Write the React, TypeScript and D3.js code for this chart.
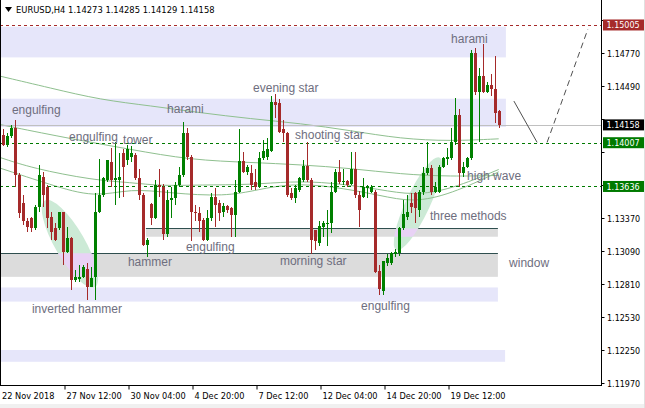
import * as d3 from "d3";

// EURUSD H4 candles
const opens = [
  1.1407, 1.1399, 1.1406, 1.1413, 1.1373, 1.1350, 1.1334, 1.1337, 1.1328, 1.1346,
  1.1372, 1.1363, 1.1338, 1.1328, 1.1328, 1.1342, 1.1308, 1.1320, 1.1284, 1.1285,
  1.1287, 1.1294, 1.1278, 1.1287, 1.1342, 1.1356, 1.1369, 1.1384, 1.1369, 1.1369,
  1.1392, 1.1386, 1.1389, 1.1390, 1.1371, 1.1356, 1.1314, 1.1349, 1.1337, 1.1365,
  1.1363, 1.1323, 1.1352, 1.1354, 1.1365, 1.1373, 1.1409, 1.1389, 1.1342, 1.1341,
  1.1335, 1.1318, 1.1337, 1.1355, 1.1350, 1.1342, 1.1347, 1.1345, 1.1339, 1.1359,
  1.1385, 1.1376, 1.1375, 1.1367, 1.1363, 1.1388, 1.1389, 1.1394, 1.1435, 1.1434,
  1.1412, 1.1409, 1.1358, 1.1354, 1.1361, 1.1369, 1.1381, 1.1369, 1.1327, 1.1316,
  1.1329, 1.1332, 1.1333, 1.1359, 1.1376, 1.1367, 1.1368, 1.1366, 1.1378, 1.1356,
  1.1355, 1.1362, 1.1359, 1.1359, 1.1292, 1.1275, 1.1299, 1.1299, 1.1306, 1.1307,
  1.1328, 1.1338, 1.1350, 1.1358, 1.1344, 1.1359, 1.1375, 1.1379, 1.1359, 1.1359,
  1.1380, 1.1387, 1.1388, 1.1401, 1.1424, 1.1375, 1.1380, 1.1388, 1.1477, 1.1444,
  1.1457, 1.1444, 1.1450, 1.1446, 1.14273,
];
const highs = [
  1.1412, 1.1409, 1.1416, 1.1420, 1.1375, 1.1356, 1.1337, 1.1338, 1.1348, 1.1382,
  1.1376, 1.1365, 1.1342, 1.1333, 1.1342, 1.1342, 1.1329, 1.1321, 1.1293, 1.1297,
  1.1297, 1.1299, 1.1295, 1.1358, 1.1387, 1.1372, 1.1386, 1.1396, 1.1401, 1.1392,
  1.1395, 1.1399, 1.1398, 1.1392, 1.1378, 1.1358, 1.1320, 1.1350, 1.1369, 1.1378,
  1.1366, 1.1361, 1.1363, 1.1367, 1.1380, 1.1418, 1.1413, 1.1390, 1.1348, 1.1346,
  1.1337, 1.1344, 1.1358, 1.1362, 1.1352, 1.1350, 1.1348, 1.1346, 1.1369, 1.1412,
  1.1393, 1.1382, 1.1382, 1.1378, 1.1393, 1.1403, 1.1405, 1.1440, 1.1442, 1.1438,
  1.1420, 1.1410, 1.1362, 1.1365, 1.1372, 1.1386, 1.1401, 1.1371, 1.1327, 1.1334,
  1.1334, 1.1344, 1.1367, 1.1378, 1.1386, 1.1378, 1.1369, 1.1393, 1.1393, 1.1360,
  1.1371, 1.1365, 1.1365, 1.1361, 1.1297, 1.1300, 1.1306, 1.1308, 1.1311, 1.1329,
  1.1352, 1.1356, 1.1358, 1.1359, 1.1361, 1.1380, 1.1401, 1.1382, 1.1367, 1.1382,
  1.1389, 1.1396, 1.1413, 1.1439, 1.1429, 1.1384, 1.1389, 1.1479, 1.1481, 1.1464,
  1.1484, 1.1452, 1.1459, 1.1474, 1.14285,
];
const lows = [
  1.1398, 1.1397, 1.1405, 1.1363, 1.1337, 1.1331, 1.1325, 1.1325, 1.1327, 1.1342,
  1.1346, 1.1328, 1.1318, 1.1317, 1.1327, 1.1297, 1.1307, 1.1276, 1.1283, 1.1283,
  1.1286, 1.1267, 1.1278, 1.1267, 1.1341, 1.1355, 1.1367, 1.1363, 1.1348, 1.1354,
  1.1355, 1.1382, 1.1384, 1.1369, 1.1352, 1.1313, 1.1304, 1.1331, 1.1336, 1.1355,
  1.1318, 1.1321, 1.1337, 1.1348, 1.1363, 1.1372, 1.1386, 1.1317, 1.1334, 1.1325,
  1.1317, 1.1317, 1.1334, 1.1329, 1.1334, 1.1338, 1.1341, 1.1321, 1.1321, 1.1358,
  1.1375, 1.1373, 1.1361, 1.1361, 1.1362, 1.1386, 1.1386, 1.1393, 1.1422, 1.1409,
  1.1401, 1.1355, 1.1352, 1.1350, 1.1359, 1.1367, 1.1367, 1.1306, 1.1310, 1.1313,
  1.1321, 1.1313, 1.1324, 1.1358, 1.1366, 1.1365, 1.1363, 1.1365, 1.1354, 1.1329,
  1.1354, 1.1354, 1.1358, 1.1290, 1.1272, 1.1272, 1.1296, 1.1297, 1.1304, 1.1305,
  1.1327, 1.1335, 1.1341, 1.1333, 1.1338, 1.1356, 1.1373, 1.1356, 1.1358, 1.1358,
  1.1379, 1.1382, 1.1386, 1.1399, 1.1363, 1.1372, 1.1379, 1.1386, 1.1441, 1.1401,
  1.1443, 1.1443, 1.1440, 1.1417, 1.14129,
];
const closes = [
  1.1399, 1.1406, 1.1413, 1.1373, 1.1341, 1.1334, 1.1329, 1.1328, 1.1346, 1.1373,
  1.1356, 1.1337, 1.1325, 1.1318, 1.1342, 1.1308, 1.1320, 1.1284, 1.1287, 1.1287,
  1.1295, 1.1278, 1.1286, 1.1342, 1.1356, 1.1371, 1.1386, 1.1369, 1.1371, 1.1372,
  1.1380, 1.1395, 1.1392, 1.1371, 1.1356, 1.1314, 1.1318, 1.1337, 1.1365, 1.1363,
  1.1323, 1.1352, 1.1354, 1.1365, 1.1373, 1.1409, 1.1389, 1.1342, 1.1341, 1.1334,
  1.1318, 1.1337, 1.1355, 1.1348, 1.1341, 1.1347, 1.1344, 1.1339, 1.1359, 1.1385,
  1.1376, 1.1380, 1.1365, 1.1363, 1.1388, 1.1394, 1.1395, 1.1435, 1.1433, 1.1410,
  1.1409, 1.1356, 1.1354, 1.1362, 1.1371, 1.1381, 1.1369, 1.1318, 1.1317, 1.1330,
  1.1333, 1.1333, 1.1359, 1.1376, 1.1367, 1.1368, 1.1365, 1.1378, 1.1356, 1.1344,
  1.1363, 1.1363, 1.1363, 1.1291, 1.1277, 1.1300, 1.1303, 1.1307, 1.1308, 1.1328,
  1.1340, 1.1342, 1.1346, 1.1345, 1.1359, 1.1375, 1.1379, 1.1359, 1.1363, 1.1380,
  1.1388, 1.1389, 1.1401, 1.1424, 1.1375, 1.1380, 1.1388, 1.1477, 1.1444, 1.1457,
  1.1444, 1.1450, 1.1446, 1.1426, 1.14158,
];

// moving averages, [bar, price]
const maSlow = [[-0.5, 1.1457], [12, 1.1447], [24.5, 1.1437], [37, 1.1432], [49.5, 1.1426], [62, 1.1421], [74.5, 1.1417], [87, 1.1411], [99.5, 1.1404], [112, 1.1402], [124, 1.1404]];
const maMid = [[-0.5, 1.1416], [15.5, 1.1405], [32, 1.1395], [47, 1.1386], [62, 1.1384], [74.5, 1.1382], [87, 1.1379], [99.5, 1.1374], [112, 1.1372], [124, 1.1373]];
const maFast1 = [[-0.5, 1.1388], [7.5, 1.1379], [22.5, 1.1369], [32, 1.1367], [39.5, 1.1364], [49.5, 1.1365], [62, 1.1365], [72, 1.1368], [82, 1.1367], [94.5, 1.1361], [102.5, 1.1356], [112, 1.1361], [124, 1.1378]];
const maFast2 = [[-0.5, 1.1379], [12, 1.1365], [23, 1.1354], [32, 1.1362], [42, 1.1358], [55.5, 1.1355], [64, 1.1361], [72, 1.1366], [82, 1.1364], [94.5, 1.1356], [102.5, 1.1350], [112, 1.1357], [124, 1.1376]];

const priceTicks = ["1.11970", "1.12250", "1.12530", "1.12810", "1.13090", "1.13370", "1.13650", "1.13930", "1.14210", "1.14490", "1.14770", "1.15050"];
const dateLabels = ["22 Nov 2018", "27 Nov 12:00", "30 Nov 04:00", "4 Dec 20:00", "7 Dec 12:00", "12 Dec 04:00", "14 Dec 20:00", "19 Dec 12:00"];
const dateBars = [0, 15, 31, 47, 63, 79, 95, 111];

// zones: [bar from, bar to, price top, price bottom]
const blueZones = [[-0.7, 125.8, 1.1499, 1.1473], [-0.7, 125.8, 1.1438, 1.1414], [-0.7, 123.8, 1.1278, 1.1266], [-0.7, 125.6, 1.1225, 1.1215]];
const greyZones = [[35.8, 123.8, 1.1328, 1.1321], [-0.7, 123.8, 1.1307, 1.1287]];
// ellipses: [bar, price]
const ellipseCenters = [[16.8, 1.1315], [103.8, 1.1349]];

const levelPrices = [1.15005, 1.14007, 1.13636];
const levelLabels = ["1.15005", "1.14007", "1.13636"];
const levelColors = ["#a52a2a", "#007a00", "#007a00"];
const lastPrice = 1.14158;

const patternNames = ["engulfing", "harami", "engulfing", "tower", "evening star", "shooting star", "harami", "high wave", "three methods", "window", "hammer", "engulfing", "morning star", "inverted hammer", "engulfing"];
const patternBars = [2.3, 41.1, 16.6, 30.1, 62.6, 73.1, 112.1, 116.1, 106.8, 126.6, 31.3, 45.8, 69.3, 7.3, 89.6];
const patternPrices = [1.1425, 1.1426, 1.1402, 1.1400, 1.1444, 1.1404, 1.1485, 1.1369, 1.1335, 1.1295, 1.1296, 1.1309, 1.1297, 1.1256, 1.1259];

// projected path: [bar, price]
const projSolid = [[127.8, 1.1436], [133.6, 1.1401]];
const projDashed = [[136.1, 1.1401], [146.3, 1.1497]];

const W = 645;
const H = 408;
const plotRight = 601.5;
const plotBottom = 385.5;

export default function App() {
  const x = d3.scaleLinear().domain([0, opens.length - 1]).range([2.7, 498.7]);
  const y = d3.scaleLinear().domain([1.1197, 1.1505]).range([383, 19.67]);
  const cx = (i: number) => Math.round(x(i)) + 0.5;

  const maLine = d3.line<number[]>()
    .x(d => x(d[0]))
    .y(d => y(d[1]))
    .curve(d3.curveBasis);

  const font = "'Liberation Sans', Arial, sans-serif";
  const uiFont = "'DejaVu Sans', Tahoma, sans-serif";

  // tick labels sitting under a price box are covered in the terminal
  const boxPrices = [...levelPrices, lastPrice];
  const visibleTicks = priceTicks.filter(t => boxPrices.every(p => Math.abs(y(+t) - y(p)) > 10));

  return (
    <svg width={W} height={H} style={{ position: "absolute", left: 0, top: 0, background: "#fff" }} fontFamily={font}>
      <defs>
        <clipPath id="plot">
          <rect x={1} y={0} width={plotRight - 1} height={plotBottom} />
        </clipPath>
        <clipPath id="grey">
          {greyZones.map((z, k) => (
            <rect key={k} x={x(z[0])} y={y(z[2])} width={x(z[1]) - x(z[0])} height={y(z[3]) - y(z[2])} />
          ))}
        </clipPath>
      </defs>
      <rect x={0} y={0} width={W} height={H} fill="#fff" />
      <rect x={0} y={404} width={W} height={4} fill="#f0f0f0" />
      <rect x={644} y={0} width={1} height={H} fill="#e0e0e0" />

      <g clipPath="url(#plot)">
        {blueZones.map((z, k) => (
          <rect key={k} x={x(z[0])} y={y(z[2])} width={x(z[1]) - x(z[0])} height={y(z[3]) - y(z[2])} fill="#e6e6fa" />
        ))}
        {greyZones.map((z, k) => (
          <g key={k}>
            <rect x={x(z[0])} y={y(z[2])} width={x(z[1]) - x(z[0])} height={y(z[3]) - y(z[2])} fill="#dcdcdc" />
            <line x1={x(z[0])} x2={x(z[1])} y1={Math.round(y(z[2])) + 0.5} y2={Math.round(y(z[2])) + 0.5} stroke="#2f4f4f" />
          </g>
        ))}
        <g>
          <ellipse cx={x(ellipseCenters[0][0])} cy={y(ellipseCenters[0][1])} rx={50} ry={15} fill="#ccead6"
            transform={`rotate(60 ${x(ellipseCenters[0][0])} ${y(ellipseCenters[0][1])})`} />
          <ellipse cx={x(ellipseCenters[1][0])} cy={y(ellipseCenters[1][1])} rx={51} ry={12} fill="#ccead6"
            transform={`rotate(-65 ${x(ellipseCenters[1][0])} ${y(ellipseCenters[1][1])})`} />
        </g>
        <g clipPath="url(#grey)">
          <ellipse cx={x(ellipseCenters[0][0])} cy={y(ellipseCenters[0][1])} rx={50} ry={15} fill="#e8d2f5"
            transform={`rotate(60 ${x(ellipseCenters[0][0])} ${y(ellipseCenters[0][1])})`} />
          <ellipse cx={x(ellipseCenters[1][0])} cy={y(ellipseCenters[1][1])} rx={51} ry={12} fill="#e8d2f5"
            transform={`rotate(-65 ${x(ellipseCenters[1][0])} ${y(ellipseCenters[1][1])})`} />
        </g>

        {[maSlow, maMid, maFast1, maFast2].map((m, k) => (
          <path key={k} d={maLine(m) || ""} fill="none" stroke="#8fc08f" strokeWidth={1} />
        ))}

        <line x1={0} x2={plotRight} y1={Math.round(y(lastPrice)) + 0.5} y2={Math.round(y(lastPrice)) + 0.5} stroke="#c0c0c0" />
        {levelPrices.map((p, k) => (
          <line key={k} x1={0} x2={plotRight} y1={Math.round(y(p)) + 0.5} y2={Math.round(y(p)) + 0.5}
            stroke={levelColors[k]} strokeDasharray="3,3" />
        ))}

        <g shapeRendering="crispEdges">
          {opens.map((o, i) => {
            const c = closes[i];
            const col = c >= o ? "#008000" : "#a52a2a";
            const top = Math.round(y(Math.max(o, c)));
            const bot = Math.round(y(Math.min(o, c)));
            return (
              <g key={i}>
                <line x1={cx(i)} x2={cx(i)} y1={y(highs[i])} y2={y(lows[i])} stroke={col} />
                <rect x={cx(i) - 1.5} y={top} width={3} height={Math.max(1, bot - top)} fill={col} />
              </g>
            );
          })}
        </g>

        {patternNames.map((t, k) => (
          <text key={k} x={x(patternBars[k])} y={y(patternPrices[k])} fontSize={12} fill="#6e6e7e">{t}</text>
        ))}

        <path d={`M${x(projSolid[0][0])},${y(projSolid[0][1])}L${x(projSolid[1][0])},${y(projSolid[1][1])}`} stroke="#505050" fill="none" />
        <path d={`M${x(projDashed[0][0])},${y(projDashed[0][1])}L${x(projDashed[1][0])},${y(projDashed[1][1])}`} stroke="#505050" fill="none" strokeDasharray="6,4" />
      </g>

      {/* header */}
      <path d="M5,7L12,7L8.5,12Z" fill="#000" />
      <text x={16} y={13} fontSize={8.4} fontFamily={uiFont} fill="#000">EURUSD,H4  1.14273 1.14285 1.14129 1.14158</text>

      {/* frame */}
      <g stroke="#000" shapeRendering="crispEdges">
        <line x1={0.5} x2={0.5} y1={0} y2={plotBottom} />
        <line x1={plotRight} x2={plotRight} y1={0} y2={plotBottom} />
        <line x1={0} x2={plotRight} y1={plotBottom} y2={plotBottom} />
      </g>

      {/* price axis */}
      {priceTicks.map(t => {
        const yy = Math.round(y(+t)) + 0.5;
        return <line key={t} x1={plotRight} x2={plotRight + 3} y1={yy} y2={yy} stroke="#000" />;
      })}
      {visibleTicks.map(t => (
        <text key={t} x={607} y={Math.round(y(+t)) + 4} fontSize={8} fontFamily={uiFont} fill="#000">{t}</text>
      ))}
      {levelPrices.map((p, k) => (
        <g key={k}>
          <rect x={603} y={y(p) - 5.5} width={41} height={11} fill={levelColors[k]} />
          <text x={606.5} y={y(p) + 3.5} fontSize={8} fontFamily={uiFont} fill="#fff">{levelLabels[k]}</text>
        </g>
      ))}
      <rect x={603} y={y(lastPrice) - 5.5} width={41} height={11} fill="#000" />
      <text x={606.5} y={y(lastPrice) + 3.5} fontSize={8} fontFamily={uiFont} fill="#fff">{lastPrice.toFixed(5)}</text>

      {/* time axis */}
      {dateBars.map((b, k) => (
        <g key={k}>
          {k > 0 && <line x1={cx(b) + 1.5} x2={cx(b) + 1.5} y1={plotBottom} y2={plotBottom + 4} stroke="#000" />}
          <text x={k === 0 ? 2 : cx(b) + 3} y={399} fontSize={8.2} fontFamily={uiFont} fill="#000">{dateLabels[k]}</text>
        </g>
      ))}
    </svg>
  );
}
